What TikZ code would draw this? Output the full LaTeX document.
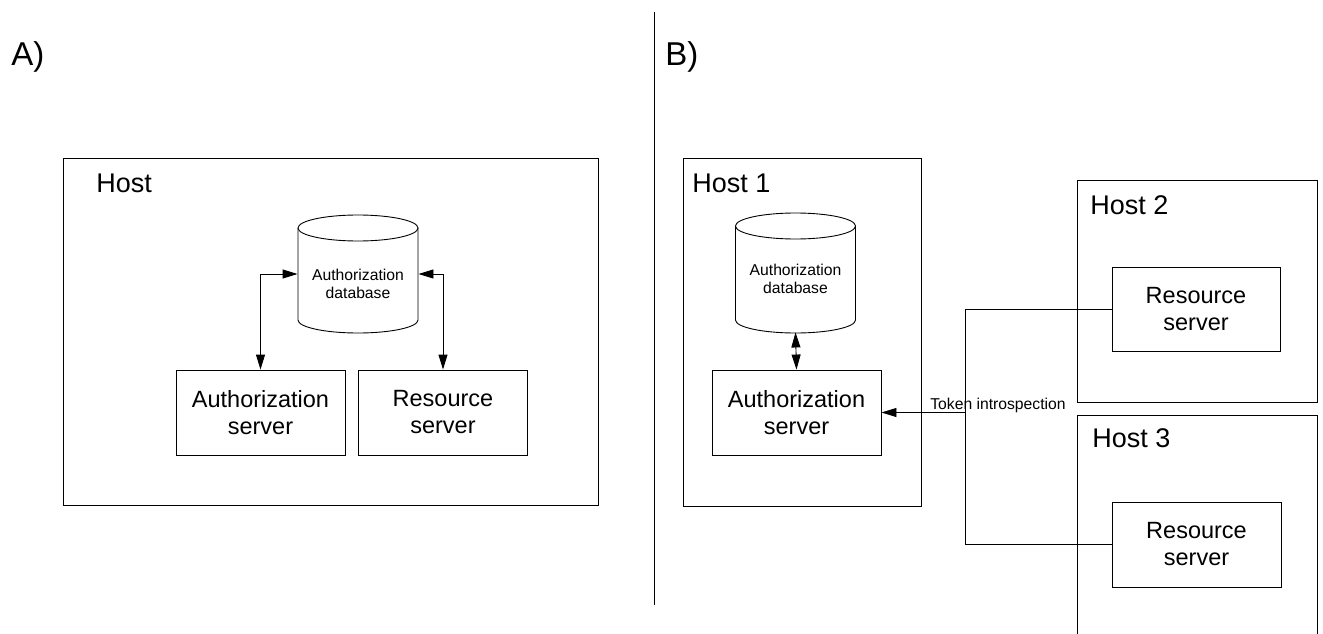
\documentclass[tikz,border=0pt]{standalone}
\usepackage{fontspec}
\setmainfont{Liberation Sans}
\usetikzlibrary{arrows.meta}
\begin{document}
\begin{tikzpicture}[x=1pt,y=1pt,
  every path/.style={line width=0.9pt},
  box/.style={draw, inner sep=0pt, align=center, minimum width=169pt, minimum height=85pt,
    font=\fontsize{23.5}{27}\selectfont},
  hostlabel/.style={anchor=west, inner sep=0pt, font=\fontsize{27}{32}\selectfont},
  panellabel/.style={anchor=west, inner sep=0pt, font=\fontsize{33}{38}\selectfont},
  dbtext/.style={inner sep=0pt, align=center, font=\fontsize{15.7}{18}\selectfont},
  dbshape/.style={inner sep=0pt, minimum width=120pt, minimum height=118pt},
  tip/.style={-{Triangle[length=15pt,width=9pt]}},
  tips/.style={{Triangle[length=15pt,width=9pt]}-{Triangle[length=15pt,width=9pt]}},
  plain/.style={font=\fontsize{15.7}{18}\selectfont, inner sep=0pt}]
\useasboundingbox (0,0) rectangle (1323,-634);

% panel labels and divider
\node[panellabel] (labA) at (11,-57) {A)};
\node[panellabel] (labB) at (665,-57) {B)};
\draw (654,-12) -- (654,-605);

% ---------- A: single host ----------
\node[draw, inner sep=0pt, minimum width=535pt, minimum height=347pt] (hostA) at (330.5,-331.5) {};
\node[hostlabel] (hostAlab) at (96,-183) {Host};

\node[dbshape] (dbA) at (358,-274) {};
\draw (298,-228) -- (298,-320) arc[start angle=180,end angle=360,x radius=60,y radius=13] -- (418,-228);
\draw (358,-228) ellipse[x radius=60,y radius=13];
\node[dbtext] (dbAtext) at (358,-284) {Authorization\\database};

\node[box] (authA) at (260.5,-412.5) {Authorization\\server};
\node[box] (resA) at (443,-412.5) {Resource\\server};

\draw[tips] (authA.north) |- (dbA.west);
\draw[tips] (resA.north) |- (dbA.east);

% ---------- B: separate hosts ----------
\node[draw, inner sep=0pt, minimum width=238pt, minimum height=348pt] (host1) at (802,-332) {};
\node[hostlabel] (host1lab) at (692,-183) {Host 1};

\node[dbshape] (dbB) at (795.5,-273) {};
\draw (735.5,-226) -- (735.5,-320) arc[start angle=180,end angle=360,x radius=60,y radius=13] -- (855.5,-226);
\draw (795.5,-226) ellipse[x radius=60,y radius=13];
\node[dbtext] (dbBtext) at (795.5,-279) {Authorization\\database};

\node[box] (authB) at (796.5,-412.5) {Authorization\\server};
\draw[tips] (dbB.south) -- (authB.north);

\node[draw, inner sep=0pt, minimum width=240pt, minimum height=222pt] (host2) at (1197,-291) {};
\node[hostlabel] (host2lab) at (1090,-205) {Host 2};
\node[box, minimum width=168pt, minimum height=84pt] (res2) at (1196,-309) {Resource\\server};

\draw (1077,-634) -- (1077,-415) -- (1317,-415) -- (1317,-634);
\node[hostlabel] (host3lab) at (1092,-438) {Host 3};
\node[box] (res3) at (1196.5,-544.5) {Resource\\server};

% token introspection bus
\coordinate (busTop) at (965,-309);
\coordinate (busBot) at (965,-544.5);
\coordinate (busMid) at (965,-412.5);
\draw (res2.west) -- (busTop) -- (busBot) -- (res3.west);
\draw[tip] (busMid) -- (authB.east);
\node[plain] (tokenlab) at (998,-405) {Token introspection};
\end{tikzpicture}
\end{document}
